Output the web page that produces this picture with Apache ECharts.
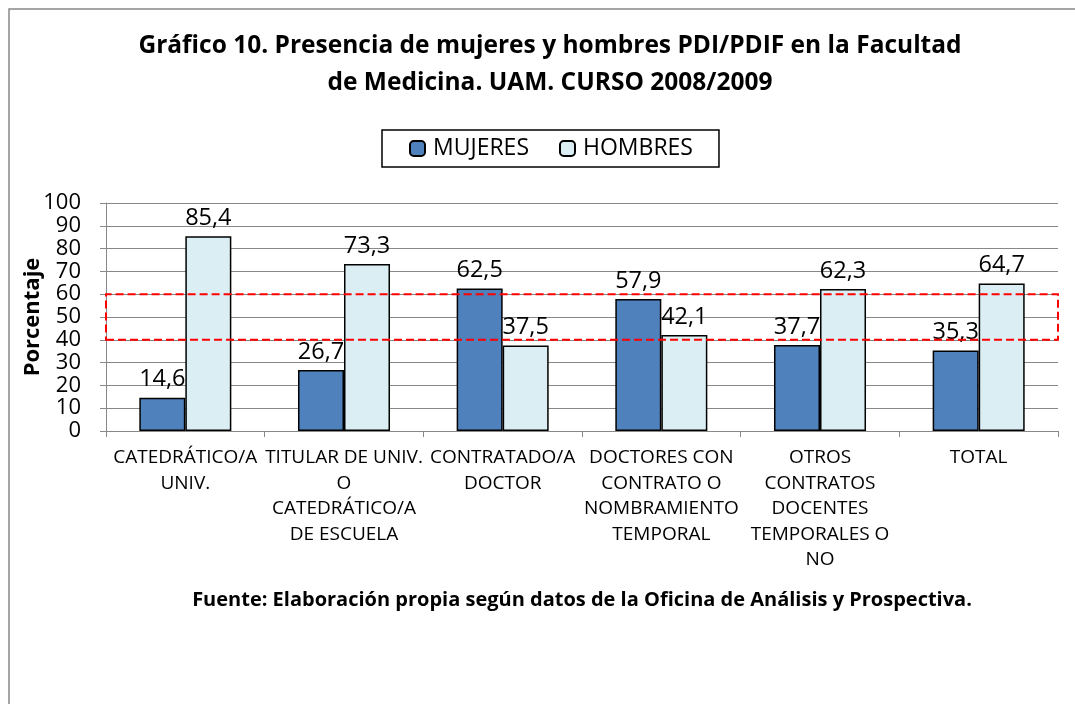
<!DOCTYPE html>
<html>
<head>
<meta charset="utf-8">
<script src="https://cdn.jsdelivr.net/npm/echarts@6/dist/echarts.min.js"></script>
<style>
  html, body { margin: 0; padding: 0; background: #fff; }
  #main { width: 1075px; height: 704px; }
</style>
</head>
<body>
<div id="main"></div>
<script>
// datos del gráfico
var categorias = [
    'CATEDRÁTICO/A\nUNIV.',
    'TITULAR DE UNIV.\nO\nCATEDRÁTICO/A\nDE ESCUELA',
    'CONTRATADO/A\nDOCTOR',
    'DOCTORES CON\nCONTRATO O\nNOMBRAMIENTO\nTEMPORAL',
    'OTROS\nCONTRATOS\nDOCENTES\nTEMPORALES O\nNO',
    'TOTAL'
];
var mujeres = [14.6, 26.7, 62.5, 57.9, 37.7, 35.3];
var hombres = [85.4, 73.3, 37.5, 42.1, 62.3, 64.7];
var franja = [40, 60]; // zona marcada en rojo

var fuente = '"Open Sans", "Noto Sans", sans-serif';

// etiqueta con coma decimal
function coma(p) {
    return String(p.value.toFixed(1)).replace('.', ',');
}

var chart = echarts.init(document.getElementById('main'));

var option = {
    animation: false,
    textStyle: { fontFamily: fuente, color: '#000' },
    graphic: [
        {
            type: 'rect',
            shape: { x: 9, y: 9, width: 1200, height: 800 },
            style: { fill: 'none', stroke: '#888', lineWidth: 1.5 },
            z: -1
        }
    ],
    title: [
        {
            text: 'Gráfico 10. Presencia de mujeres y hombres PDI/PDIF en la Facultad\nde Medicina. UAM. CURSO 2008/2009',
            left: 545,
            top: 23,
            textAlign: 'center',
            textStyle: {
                fontFamily: fuente,
                fontSize: 24.5,
                fontWeight: 'bold',
                color: '#000',
                lineHeight: 37
            }
        },
        {
            text: 'Fuente: Elaboración propia según datos de la Oficina de Análisis y Prospectiva.',
            left: 577,
            top: 585,
            textAlign: 'center',
            textStyle: {
                fontFamily: fuente,
                fontSize: 20,
                fontWeight: 'bold',
                color: '#000'
            }
        }
    ],
    legend: {
        data: ['MUJERES', 'HOMBRES'],
        left: 382,
        top: 130,
        padding: [7, 26, 7, 27],
        itemGap: 30,
        itemWidth: 15,
        itemHeight: 15,
        borderColor: '#000',
        borderWidth: 1.5,
        textStyle: { fontFamily: fuente, fontSize: 23, color: '#000', padding: [0, 0, 0, 3] }
    },
    grid: {
        left: 106,
        right: 17,
        top: 203,
        bottom: 273
    },
    xAxis: {
        type: 'category',
        data: categorias,
        axisLine: { lineStyle: { color: '#888', width: 1 } },
        axisTick: { show: true, length: 6, lineStyle: { color: '#888' } },
        axisLabel: {
            interval: 0,
            margin: 14,
            fontFamily: fuente,
            fontSize: 19,
            lineHeight: 25.5,
            color: '#000'
        }
    },
    yAxis: {
        type: 'value',
        min: 0,
        max: 100,
        interval: 10,
        name: 'Porcentaje',
        nameLocation: 'middle',
        nameGap: 62,
        nameMoveOverlap: false,
        nameTextStyle: { fontFamily: fuente, fontSize: 22, fontWeight: 'bold', color: '#000' },
        axisLine: { show: true, lineStyle: { color: '#888', width: 1 } },
        axisTick: { show: true, length: 6, lineStyle: { color: '#888' } },
        axisLabel: {
            margin: 25,
            fontFamily: fuente,
            fontSize: 22,
            lineHeight: 18,
            color: '#000'
        },
        splitLine: { show: true, lineStyle: { color: '#888', width: 1.2 } }
    },
    series: [
        {
            name: 'MUJERES',
            type: 'bar',
            data: mujeres,
            barGap: '0%',
            barCategoryGap: '42%',
            itemStyle: { color: '#4F81BD', borderColor: '#000', borderWidth: 1.5 },
            label: {
                show: true,
                position: 'top',
                distance: 6,
                formatter: coma,
                fontFamily: fuente,
                fontSize: 23.5,
                color: '#000'
            }
        },
        {
            name: 'HOMBRES',
            type: 'bar',
            data: hombres,
            itemStyle: { color: '#DBEEF4', borderColor: '#000', borderWidth: 1.5 },
            label: {
                show: true,
                position: 'top',
                distance: 6,
                formatter: coma,
                fontFamily: fuente,
                fontSize: 23.5,
                color: '#000'
            },
            markArea: {
                silent: true,
                z: 10,
                label: { show: false },
                itemStyle: {
                    color: 'rgba(0,0,0,0)',
                    borderColor: '#FF0000',
                    borderWidth: 2,
                    borderType: [8, 4]
                },
                data: [[{ yAxis: franja[0] }, { yAxis: franja[1] }]]
            }
        }
    ]
};

chart.setOption(option);
</script>
</body>
</html>
